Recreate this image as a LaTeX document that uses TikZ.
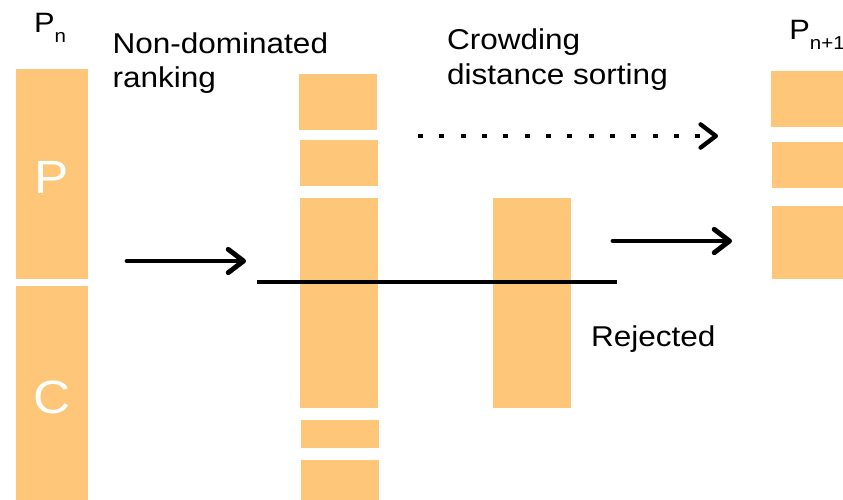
\documentclass[tikz,border=0pt]{standalone}
\usepackage{fontspec}
\setmainfont{Liberation Sans}[FakeStretch=1.1]
\usetikzlibrary{arrows.meta,fit}
\definecolor{barfill}{RGB}{254,198,120}
\tikzset{
  bar/.style={fill=barfill, draw=none, inner sep=0pt, outer sep=0pt},
  caption/.style={font=\fontsize{21.5}{25.5}\selectfont, inner sep=0pt, outer sep=0pt, align=left},
  poptitle/.style={font=\fontsize{21}{25}\selectfont, inner sep=0pt, outer sep=0pt, anchor=base west},
  biglabel/.style={font=\fontsize{35}{40}\selectfont, text=white, inner sep=0pt, anchor=base},
  barb/.tip={Straight Barb[length=11.5pt,width=17.5pt,line cap=round,line join=round]},
  flow/.style={line width=3.7pt, line cap=round, -barb},
  dotflow/.style={line width=3.2pt, dash pattern=on 3.75pt off 12.25pt, -barb},
  cutline/.style={line width=3.4pt}
}
\newcommand{\popsub}[1]{\raisebox{-7.8pt}{\fontsize{14}{16}\selectfont #1}}
\begin{document}
\begin{tikzpicture}[x=0.75pt,y=-0.75pt]
  \useasboundingbox (0,0) rectangle (843,500);

  % population P_n: parents and children
  \node[bar, fit={(16,69) (88,279)}] (parents) {};
  \node[bar, fit={(16,286) (88,500)}] (children) {};
  \node[biglabel] (pLabel) at (51.5,193) {P};
  \node[biglabel] (cLabel) at (52,413) {C};

  % fronts after non-dominated ranking
  \node[bar, fit={(299,74) (377,130)}] (front1) {};
  \node[bar, fit={(300,140) (378,186)}] (front2) {};
  \node[bar, fit={(300,198) (378,408)}] (front3) {};
  \node[bar, fit={(301,420) (379,448)}] (front4) {};
  \node[bar, fit={(301,460) (379,500)}] (front5) {};

  % last front, sorted by crowding distance
  \node[bar, fit={(493,198) (571,408)}] (sorted) {};

  % new population P_{n+1}
  \node[bar, fit={(771,71) (843,127)}] (next1) {};
  \node[bar, fit={(772,142) (843,188)}] (next2) {};
  \node[bar, fit={(772,206) (843,279)}] (next3) {};

  % captions
  \node[poptitle] (pnTitle) at (34,32) {P\popsub{n}};
  \node[poptitle] (pnextTitle) at (789.3,39) {P\popsub{n+1}};
  \node[caption, anchor=north west] (rankText) at (112.5,32.3) {Non-dominated\\ranking};
  \node[caption, anchor=north west, font=\fontsize{21.5}{26.6}\selectfont] (crowdText) at (447,28.3) {Crowding\\distance sorting};
  \node[caption, anchor=base west] (rejText) at (591,346) {Rejected};

  % cut line and arrows
  \coordinate (cutL) at (257,282);
  \coordinate (cutR) at (617,282);
  \draw[cutline] (cutL) -- (cutR);

  \coordinate (rankFrom) at (127,261);
  \coordinate (rankTo) at (246,261);
  \draw[flow] (rankFrom) -- (rankTo);

  \coordinate (keepFrom) at (418,136);
  \coordinate (keepTo) at (718,136);
  \draw[dotflow] (keepFrom) -- (keepTo);

  \coordinate (selFrom) at (613,241);
  \coordinate (selTo) at (732,241);
  \draw[flow] (selFrom) -- (selTo);
\end{tikzpicture}
\end{document}
